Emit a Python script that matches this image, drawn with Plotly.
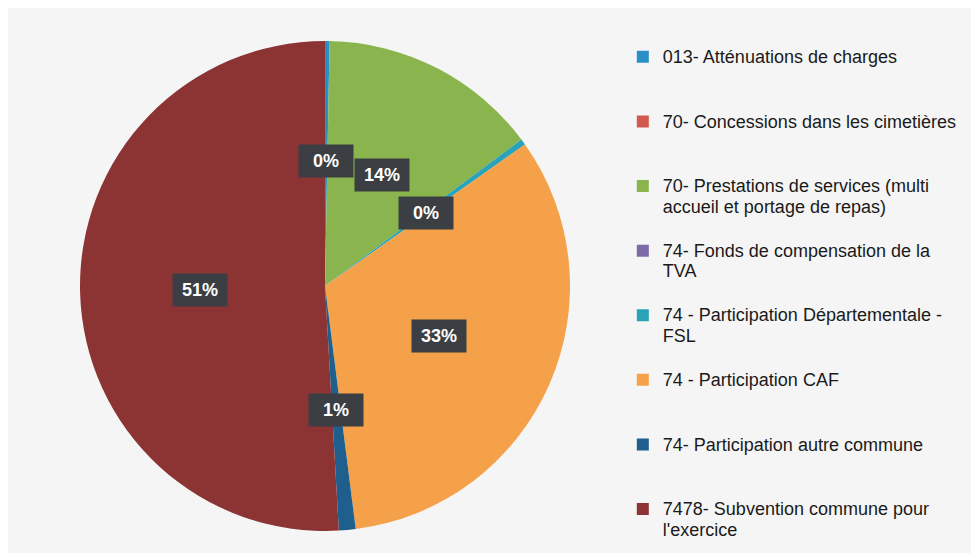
import math
import plotly.graph_objects as go

labels = [
    "013- Atténuations de charges",
    "70- Concessions dans les cimetières",
    "70- Prestations de services (multi<br>accueil et portage de repas)",
    "74- Fonds de compensation de la<br>TVA",
    "74 - Participation Départementale -<br>FSL",
    "74 - Participation CAF",
    "74- Participation autre commune",
    "7478- Subvention commune pour<br>l'exercice",
]
values = [0.3, 0.0, 14.5, 0.0, 0.4, 32.8, 1.1, 50.9]
colors = ["#2a8fc4", "#d05a4e", "#8ab54e", "#7d6aa8", "#2aa3b8", "#f4a14a", "#1f5f8e", "#8c3434"]

W, H = 979, 553
cx, cy, R = 317, 278, 245

# legend text: glyphs at 18px on a tighter line pitch, entries padded to three lines
legend_labels = []
for i, lab in enumerate(labels):
    lines = lab.split("<br>")
    pad = 0 if i == len(labels) - 1 else 3 - len(lines)
    styled = "<br>".join(f'<span style="font-size:18px">{ln}</span>' for ln in lines)
    legend_labels.append(styled + "<br> " * pad)

fig = go.Figure()
fig.add_trace(go.Pie(
    labels=legend_labels,
    values=values,
    sort=False,
    direction="clockwise",
    rotation=0,
    marker=dict(colors=colors, line=dict(width=0)),
    textinfo="none",
    hoverinfo="percent",
    domain=dict(x=[(cx - R) / W, (cx + R) / W], y=[1 - (cy + R) / H, 1 - (cy - R) / H]),
))

total = sum(values)
cum = 0.0
annotations = []
for v in values:
    if v > 0:
        mid = (cum + v / 2) / total * 2 * math.pi
        px = cx + 0.51 * R * math.sin(mid)
        py = cy - 0.51 * R * math.cos(mid)
        annotations.append(dict(
            x=px / W, y=1 - py / H, xref="paper", yref="paper",
            xanchor="center", yanchor="middle",
            text=f"{round(v / total * 100)}%", showarrow=False,
            font=dict(family="Liberation Sans, Arial, sans-serif", size=18, color="white", weight="bold"),
            bgcolor="#3b3e42", borderpad=5, width=44, height=22,
        ))
    cum += v

fig.update_layout(
    width=W, height=H,
    margin=dict(l=0, r=0, t=0, b=0),
    paper_bgcolor="#f5f5f5",
    plot_bgcolor="#f5f5f5",
    annotations=annotations,
    showlegend=True,
    legend=dict(
        x=0.628, y=1 - 32 / H, xanchor="left", yanchor="top",
        font=dict(family="Liberation Sans, Arial, sans-serif", size=15.8, color="#1a1a1a"),
        valign="top", bgcolor="rgba(0,0,0,0)",
        traceorder="normal", itemwidth=30,
    ),
)

fig.write_html("out.html")
